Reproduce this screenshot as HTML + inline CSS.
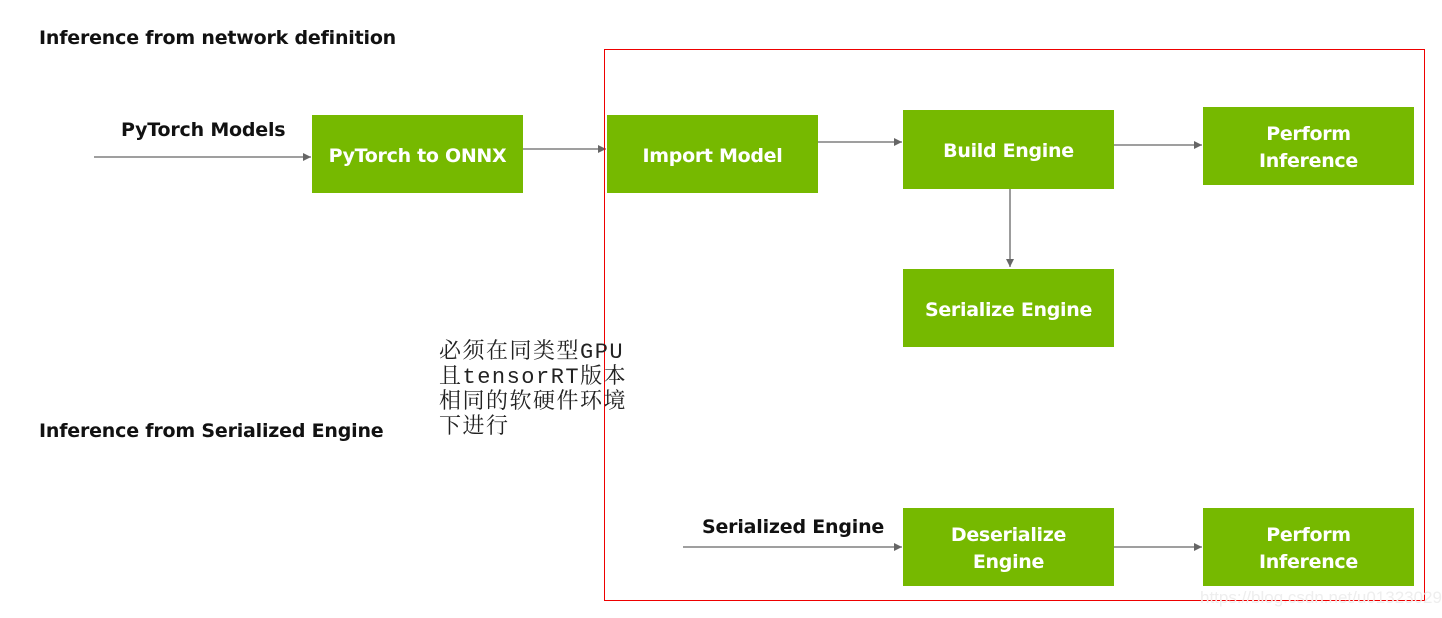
<!DOCTYPE html>
<html><head><meta charset="utf-8"><style>
body{margin:0;width:1442px;height:618px;background:#fff;position:relative;overflow:hidden;font-family:"DejaVu Sans","Liberation Sans",sans-serif}
.b{position:absolute;background:#76b900;color:#fff;font-weight:bold;font-size:19px;letter-spacing:-0.3px;display:flex;align-items:center;justify-content:center;text-align:center;line-height:27px;box-sizing:border-box;padding-top:4px}
.t{position:absolute;font-weight:bold;font-size:19px;letter-spacing:-0.2px;color:#111;white-space:nowrap}
svg{position:absolute;left:0;top:0}
</style></head><body>
<div class="t" style="left:39px;top:27px">Inference from network definition</div>
<div class="t" style="left:39px;top:420px">Inference from Serialized Engine</div>
<div class="t" style="left:121px;top:119px">PyTorch Models</div>
<div class="t" style="left:702px;top:516px">Serialized Engine</div>
<div class="b" style="left:312px;top:115px;width:211px;height:78px">PyTorch to ONNX</div>
<div class="b" style="left:607px;top:115px;width:211px;height:78px">Import Model</div>
<div class="b" style="left:903px;top:110px;width:211px;height:79px">Build Engine</div>
<div class="b" style="left:1203px;top:107px;width:211px;height:78px">Perform<br>Inference</div>
<div class="b" style="left:903px;top:269px;width:211px;height:78px">Serialize Engine</div>
<div class="b" style="left:903px;top:508px;width:211px;height:78px">Deserialize<br>Engine</div>
<div class="b" style="left:1203px;top:508px;width:211px;height:78px">Perform<br>Inference</div>
<svg width="1442" height="618">
<defs><marker id="a" markerWidth="8" markerHeight="8" refX="8" refY="4" orient="auto" markerUnits="userSpaceOnUse"><path d="M0,0L8,4L0,8z" fill="#666"/></marker></defs>
<g stroke="#666" stroke-width="1.3" marker-end="url(#a)">
<line x1="94" y1="157" x2="311" y2="157"/>
<line x1="523" y1="149" x2="606" y2="149"/>
<line x1="818" y1="142" x2="902" y2="142"/>
<line x1="1114" y1="145" x2="1202" y2="145"/>
<line x1="1010" y1="189" x2="1010" y2="267"/>
<line x1="683" y1="547" x2="902" y2="547"/>
<line x1="1114" y1="547" x2="1202" y2="547"/>
</g>
<rect x="604.5" y="49.5" width="820" height="551" fill="none" stroke="#e00" stroke-width="1"/>
</svg>
<div style="position:absolute;left:439px;top:340px;font-family:'Liberation Mono','Noto Serif CJK SC',serif;font-size:22px;letter-spacing:1.5px;line-height:25px;color:#222;white-space:nowrap">必须在同类型GPU<br>且tensorRT版本<br>相同的软硬件环境<br>下进行</div>
<div style="position:absolute;left:1200px;top:588px;font-family:'Liberation Sans',sans-serif;font-size:17px;color:#eee">https://blog.csdn.net/u013230291</div>
</body></html>
